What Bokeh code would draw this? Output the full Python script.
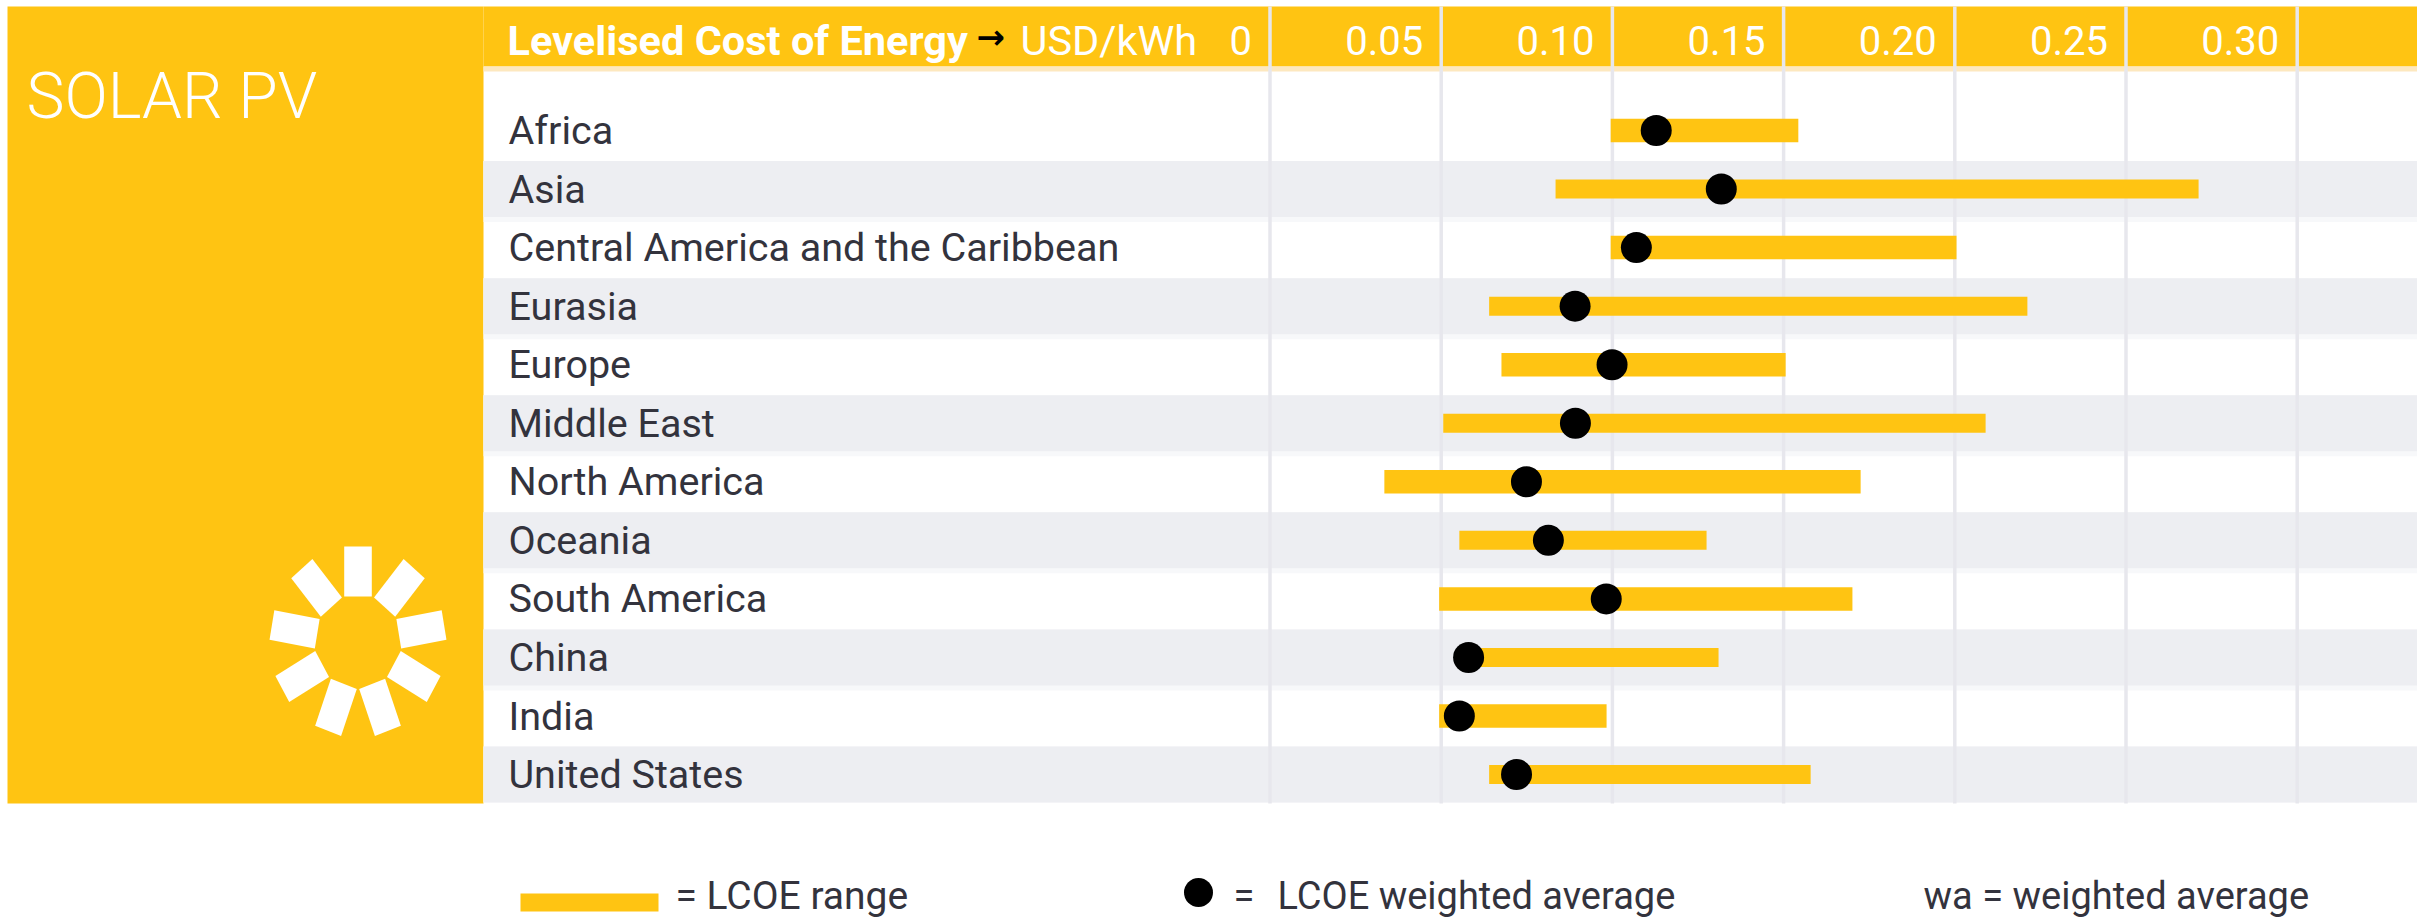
from bokeh.plotting import figure
from bokeh.models import Range1d
from bokeh.core.properties import value
from bokeh.embed import file_html
from bokeh.resources import INLINE
import math

# ---- data ----
regions = ["Africa", "Asia", "Central America and the Caribbean", "Eurasia", "Europe", "Middle East",
           "North America", "Oceania", "South America", "China", "India", "United States"]
lcoe_low = [0.0995, 0.0834, 0.0995, 0.0640, 0.0676, 0.0506, 0.0334, 0.0553, 0.0494, 0.0575, 0.0494, 0.0640]
lcoe_high = [0.1543, 0.2712, 0.2005, 0.2212, 0.1506, 0.2090, 0.1725, 0.1275, 0.1701, 0.1310, 0.0983, 0.1579]
lcoe_wa = [0.1128, 0.1318, 0.1070, 0.0891, 0.0999, 0.0892, 0.0749, 0.0813, 0.0982, 0.0580, 0.0553, 0.0720]
tick_values = [0, 0.05, 0.10, 0.15, 0.20, 0.25, 0.30]
tick_labels = ["0", "0.05", "0.10", "0.15", "0.20", "0.25", "0.30"]

# ---- layout (reference pixels) ----
X0, PX_PER_UNIT = 1269.5, 3424.0
Y0, PITCH = 130.0, 58.55
W, H = 2417, 919
def xv(px): return (px - X0) / PX_PER_UNIT
def yv(py): return (py - Y0) / PITCH

YELLOW = "#ffc412"
FONT = "Roboto"
TEXT = "#33333d"

p = figure(width=W, height=H, output_backend="svg", toolbar_location=None,
           x_range=Range1d(xv(0), xv(W)), y_range=Range1d(yv(H), yv(0)),
           x_axis_location=None, y_axis_location=None, min_border=0,
           outline_line_color=None, background_fill_color="white", border_fill_color="white")
p.grid.visible = False
right_edge = xv(W)

# left panel and header
p.quad(left=xv(7), right=xv(483), top=yv(6), bottom=yv(803), fill_color=YELLOW, line_color=None)
p.quad(left=xv(483), right=right_edge, top=yv(6), bottom=yv(66), fill_color=YELLOW, line_color=None)
p.quad(left=xv(483), right=right_edge, top=yv(66), bottom=yv(71), fill_color="#fde8bf", line_color=None)

# alternating row bands
rows = list(range(len(regions)))
band_rows = [i for i in rows if i % 2 == 1]
half = 28 / PITCH
p.quad(left=xv(483), right=right_edge, top=[i - half for i in band_rows],
       bottom=[i + half + 5 / PITCH if i < 11 else i + half for i in band_rows],
       fill_color="#f7f8fa", line_color=None)
p.quad(left=xv(483), right=right_edge, top=[i - half for i in band_rows],
       bottom=[i + half for i in band_rows], fill_color="#edeef2", line_color=None)

# grid lines
p.segment(x0=tick_values + [0.35], x1=tick_values + [0.35], y0=yv(6), y1=yv(803),
          line_color="#e7e7ed", line_width=3.5)

# bars and dots
bar_h = [(19 if i % 2 else 23.5) / PITCH for i in rows]
p.hbar(y=rows, left=lcoe_low, right=lcoe_high, height=bar_h, fill_color=YELLOW, line_color=None)
p.scatter(x=lcoe_wa, y=rows, marker="circle", size=31, fill_color="black", line_color=None)

# category labels
p.text(x=[xv(508)] * len(rows), y=rows, text=regions, text_font=value(FONT), text_font_size="39.5px",
       text_color=TEXT, text_align="left", text_baseline="alphabetic", y_offset=0)

# header texts
hy = yv(40)
p.text(x=[xv(507)], y=[hy], text=["Levelised Cost of Energy"], text_font=value(FONT), text_font_style="bold",
       text_font_size="41.5px", text_color="white", text_baseline="alphabetic")
p.text(x=[xv(976)], y=[yv(36)], text=["\u2192"], text_font=value("DejaVu Sans"), text_font_style="bold",
       text_font_size="34px", text_color="black", text_baseline="alphabetic")
p.text(x=[xv(1020)], y=[hy], text=["USD/kWh"], text_font=value(FONT),
       text_font_size="41.5px", text_color="white", text_baseline="alphabetic")
p.text(x=tick_values, y=[hy] * len(tick_values), text=tick_labels, text_font=value(FONT),
       text_font_size="40px", text_color="white", text_align="right", text_baseline="alphabetic", x_offset=-18)

# panel title
p.text(x=[xv(26)], y=[yv(96)], text=["SOLAR PV"], text_font=value("Roboto Light"), text_font_size="64px",
       text_color="white", text_baseline="alphabetic")

# sun icon: nine rays, drawn as polygons (icon is a little narrower than tall)
cx, cy, r_in, r_out, ray_w, sx = 357.5, 641.0, 45.0, 95.0, 30.0, 0.92
n_rays = 9
xs, ys = [], []
for k in range(n_rays):
    a = 2 * math.pi * k / n_rays
    cs, sn = math.cos(a), math.sin(a)
    corners = [(-ray_w / 2, r_in), (ray_w / 2, r_in), (ray_w / 2, r_out), (-ray_w / 2, r_out)]
    xs.append([xv(cx + sx * (u * cs + r * sn)) for u, r in corners])
    ys.append([yv(cy + (u * sn - r * cs)) for u, r in corners])
p.patches(xs=xs, ys=ys, fill_color="white", line_color=None)

# legend
ly = 895
p.quad(left=xv(520), right=xv(658), top=yv(893), bottom=yv(911), fill_color=YELLOW, line_color=None)
p.text(x=[xv(675)], y=[yv(ly)], text=["= LCOE range"], text_font=value(FONT), text_font_size="39px",
       text_color=TEXT, text_baseline="alphabetic")
p.scatter(x=[xv(1198)], y=[yv(892)], marker="circle", size=29, fill_color="black", line_color=None)
p.text(x=[xv(1233)], y=[yv(ly)], text=["="], text_font=value(FONT), text_font_size="38px",
       text_color=TEXT, text_baseline="alphabetic")
p.text(x=[xv(1277)], y=[yv(ly)], text=["LCOE weighted average"], text_font=value(FONT), text_font_size="38px",
       text_color=TEXT, text_baseline="alphabetic")
p.text(x=[xv(1923)], y=[yv(ly)], text=["wa = weighted average"], text_font=value(FONT), text_font_size="38px",
       text_color=TEXT, text_baseline="alphabetic")

open("out.html", "w").write(file_html(p, INLINE))
